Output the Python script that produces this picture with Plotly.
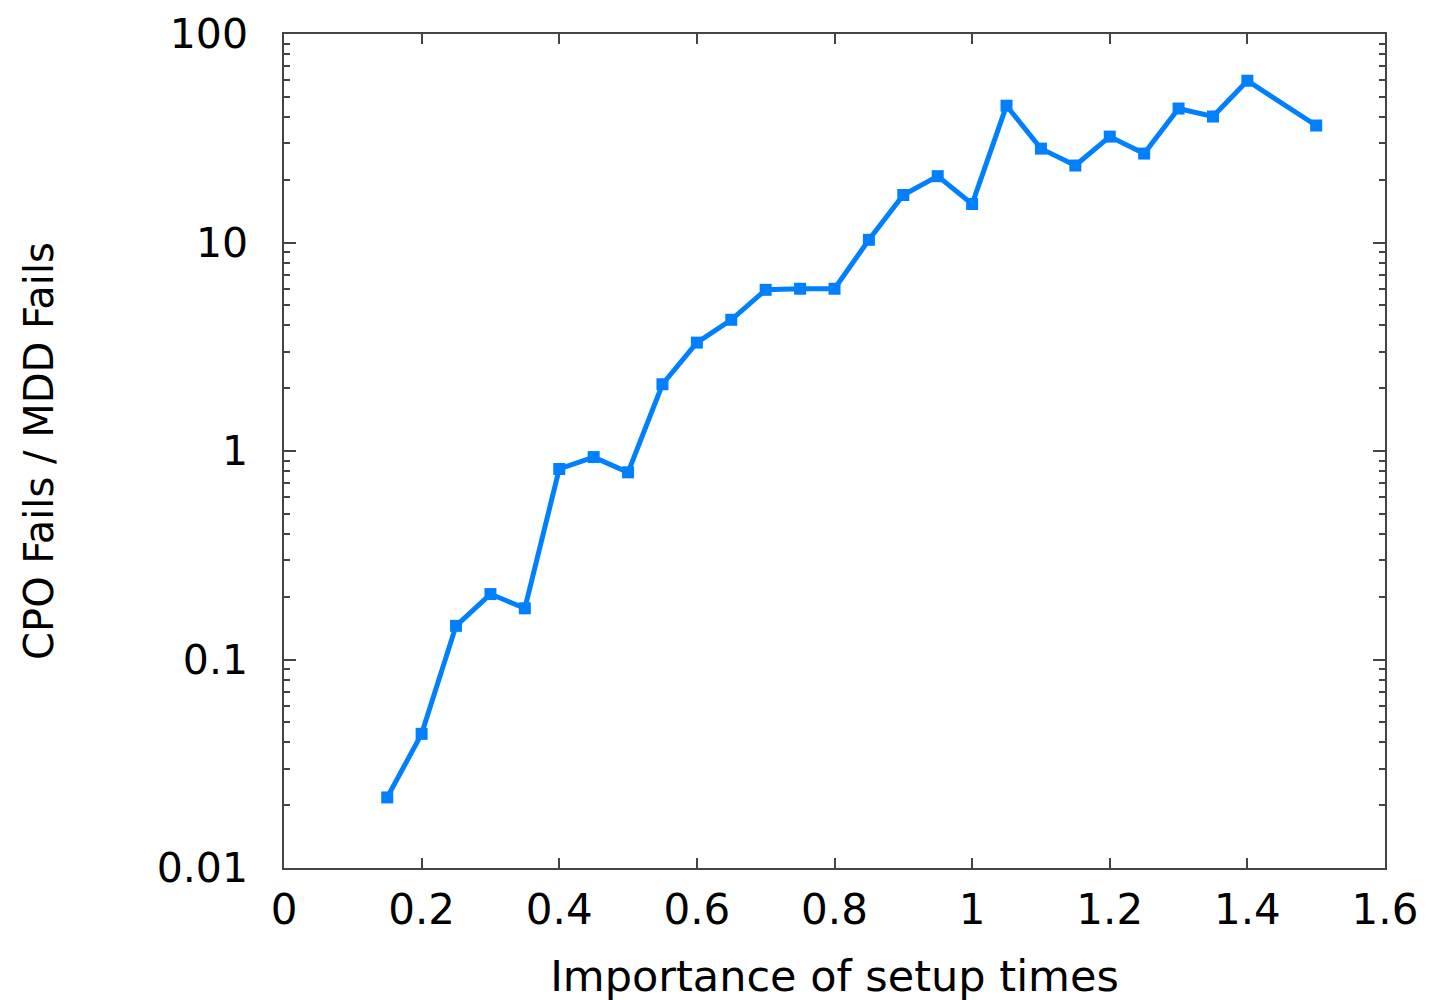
import plotly.graph_objects as go

importance = [0.15, 0.2, 0.25, 0.3, 0.35, 0.4, 0.45, 0.5, 0.55, 0.6, 0.65, 0.7, 0.75, 0.8,
              0.85, 0.9, 0.95, 1.0, 1.05, 1.1, 1.15, 1.2, 1.25, 1.3, 1.35, 1.4, 1.5]
ratio = [0.0218, 0.044, 0.145, 0.206, 0.176, 0.82, 0.935, 0.79, 2.09, 3.31, 4.26, 5.93, 6.0, 6.0,
         10.3, 16.9, 20.8, 15.3, 45.3, 28.2, 23.4, 32.2, 26.7, 43.9, 40.2, 59.7, 36.4]

x_ticks = [0, 0.2, 0.4, 0.6, 0.8, 1, 1.2, 1.4, 1.6]
x_ticktext = ["0", "0.2", "0.4", "0.6", "0.8", "1", "1.2", "1.4", "1.6"]
y_ticks = [0.01, 0.1, 1, 10, 100]
y_ticktext = ["0.01", "0.1", "1", "10", "100"]

LINE = "#0080ff"
AX = "#444444"
FONT = "DejaVu Sans"

fig = go.Figure()
fig.add_trace(go.Scatter(
    x=importance, y=ratio, mode="lines+markers",
    line=dict(color=LINE, width=5),
    marker=dict(symbol="square", size=12, color=LINE),
    showlegend=False,
))

fig.update_layout(
    width=1429, height=1000,
    margin=dict(l=276, r=52, t=26, b=140),
    plot_bgcolor="white", paper_bgcolor="white",
    font=dict(family=FONT, size=40, color="black"),
)
fig.update_xaxes(
    range=[0, 1.6], tickmode="array", tickvals=x_ticks, ticktext=x_ticktext,
    showgrid=False, zeroline=False, automargin=False, ticklabeloverflow="allow",
    showline=True, linecolor=AX, linewidth=1.5, mirror="allticks",
    ticks="inside", ticklen=10, tickwidth=1.5, tickcolor=AX,
    tickfont=dict(family=FONT, size=42), ticklabelstandoff=4,
    title=dict(text="Importance of setup times", font=dict(family=FONT, size=43), standoff=28),
)
fig.update_yaxes(
    type="log", range=[-2, 2], tickmode="array", tickvals=y_ticks, ticktext=y_ticktext,
    showgrid=False, zeroline=False, automargin=False, ticklabeloverflow="allow",
    showline=True, linecolor=AX, linewidth=1.5, mirror="allticks",
    ticks="inside", ticklen=12, tickwidth=1.5, tickcolor=AX,
    minor=dict(ticks="inside", ticklen=6, tickwidth=1.5, tickcolor=AX, dtick="D1", showgrid=False),
    tickfont=dict(family=FONT, size=41), ticklabelstandoff=26,
    title=dict(text="CPO Fails / MDD Fails", font=dict(family=FONT, size=40), standoff=91),
)

fig.write_html("out.html")
